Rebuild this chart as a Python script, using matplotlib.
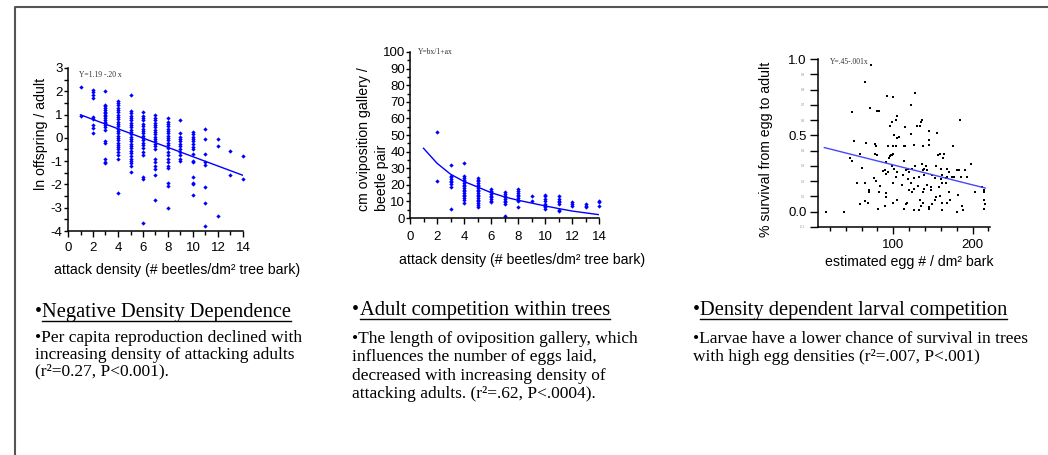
import numpy as np
import matplotlib
matplotlib.use('Agg')
import matplotlib.pyplot as plt
from matplotlib.lines import Line2D
from matplotlib.ticker import MultipleLocator

plt.rcParams['axes.unicode_minus'] = False

# ---- panel 1 data: ln offspring / adult by attack density
p1_x = list(range(1, 15))
p1_vals = [
    [2.2, 0.95],
    [2.05, 1.95, 1.85, 1.7, 0.9, 0.8, 0.55, 0.42, 0.22],
    [2.0, 1.4, 1.35, 1.28, 1.2, 1.12, 1.05, 1.0, 0.92, 0.85, 0.78, 0.7, 0.62,
     0.55, 0.45, 0.35, -0.15, -0.22, -0.92, -1.02, -1.1],
    [1.6, 1.5, 1.4, 1.3, 1.2, 1.1, 1.0, 0.9, 0.8, 0.7, 0.6, 0.5, 0.4, 0.3,
     0.2, 0.1, 0.0, -0.1, -0.2, -0.3, -0.4, -0.5, -0.6, -0.75, -0.9, -2.35],
    [1.85, 1.15, 1.05, 0.95, 0.85, 0.75, 0.65, 0.55, 0.45, 0.35, 0.25, 0.15,
     0.05, -0.05, -0.15, -0.25, -0.35, -0.45, -0.55, -0.65, -0.8, -0.9, -1.0,
     -1.1, -1.2, -1.45],
    [1.1, 0.95, 0.85, 0.75, 0.6, 0.5, 0.4, 0.3, 0.2, 0.1, 0.0, -0.1, -0.2,
     -0.3, -0.45, -0.6, -0.75, -1.7, -1.75, -3.65],
    [1.0, 0.85, 0.75, 0.65, 0.55, 0.45, 0.35, 0.25, 0.15, 0.05, -0.05, -0.15,
     -0.25, -0.35, -0.5, -0.9, -1.05, -1.2, -1.35, -1.6, -2.65],
    [0.85, 0.7, 0.6, 0.5, 0.4, 0.3, 0.2, 0.1, 0.0, -0.1, -0.2, -0.3, -0.45,
     -0.6, -0.75, -0.9, -1.05, -1.2, -1.3, -1.95, -2.05, -3.0],
    [0.75, 0.2, 0.05, -0.05, -0.15, -0.25, -0.35, -0.5, -0.6, -0.75, -0.9, -1.0],
    [0.25, 0.15, 0.05, -0.05, -0.15, -0.25, -0.4, -0.5, -0.7, -1.0, -1.05,
     -1.7, -1.95, -2.0, -2.45],
    [0.4, -0.05, -0.7, -1.05, -1.15, -2.1, -2.8, -3.8],
    [-0.05, -0.35, -3.35],
    [-0.55, -1.6],
    [-0.8, -1.75],
]
p1_fit_x = [1, 14]
p1_fit_y = [0.99, -1.61]

# ---- panel 2 data: gallery length per beetle pair
p2_x = list(range(2, 15))
p2_vals = [
    [52, 22],
    [32, 25.5, 24.5, 23.5, 22.5, 21.5, 20.5, 18.5, 5.5],
    [33, 25.5, 24, 23, 22, 21, 20, 19, 18, 17, 16, 15, 14, 13, 12, 11, 9],
    [24, 23, 22, 21, 20, 19, 18, 17, 16, 15, 14, 13, 12, 11, 10, 9, 8, 6.5],
    [17.5, 16.5, 15.5, 14.5, 13.5, 12.5, 11.5, 10.5, 9.5],
    [15.5, 14.5, 13.5, 12.5, 11.5, 10.5, 9.5, 8.5, 1.5],
    [17.5, 16, 15, 14, 13, 12, 11, 10, 6.5],
    [13.5, 10],
    [14, 13, 11.5, 10, 8.5, 7.5, 6.5, 5.5],
    [13, 11.5, 10.5, 9.5, 8.5, 5, 4],
    [9.5, 8.5, 7.5],
    [8.5, 7.5, 6.5],
    [10.5, 9.5, 7],
]
p2_fit_x = [1, 2, 3, 4, 5, 6, 7, 8, 9, 10, 11, 12, 13, 14]
p2_fit_y = [42, 33, 26.4, 22, 18.7, 15.3, 12.7, 10.7, 9, 7.3, 5.7, 4.2, 3.1, 2]

# ---- panel 3 data: survival vs egg density
p3_x = [15, 38, 72, 64, 70, 48, 51, 66, 58, 46, 48, 61, 54, 64, 58, 64, 68, 69,
        69, 77, 78, 77, 79, 79, 82, 78, 76, 81, 83, 82, 90, 87, 91, 93, 91, 89,
        91, 92, 100, 96, 98, 105, 103, 101, 105, 107, 93, 99, 103, 97, 98, 96,
        99, 94, 91, 98, 101, 99, 103, 105, 100, 105, 113, 115, 114, 112, 111,
        116, 118, 122, 127, 124, 120, 118, 122, 120, 117, 114, 116, 126, 126,
        124, 126, 128, 130, 134, 135, 136, 115, 122, 126, 145, 145, 145, 137,
        136, 141, 137, 139, 133, 131, 137, 134, 135, 133, 137, 142, 139, 139,
        143, 145, 145, 148, 149, 152, 147, 154, 155, 157, 159, 164, 163, 160,
        162, 160, 162, 158, 159, 162, 161, 152, 154, 149, 168, 170, 168, 166,
        167, 170, 172, 168, 175, 174, 177, 180, 183, 184, 185, 188, 180, 181,
        187, 191, 193, 198, 203, 212, 214, 215, 216, 214, 215]
p3_y = [0.0, 0.0, 0.96, 0.85, 0.68, 0.65, 0.46, 0.45, 0.375, 0.35, 0.33, 0.285,
        0.19, 0.19, 0.05, 0.07, 0.055, 0.13, 0.14, 0.445, 0.43, 0.38, 0.37,
        0.66, 0.66, 0.2, 0.22, 0.02, 0.17, 0.13, 0.27, 0.265, 0.25, 0.26, 0.12,
        0.035, 0.095, 0.76, 0.75, 0.56, 0.59, 0.63, 0.6, 0.5, 0.48, 0.49, 0.43,
        0.43, 0.43, 0.37, 0.37, 0.365, 0.38, 0.35, 0.325, 0.3, 0.28, 0.19,
        0.225, 0.26, 0.06, 0.08, 0.43, 0.43, 0.33, 0.24, 0.175, 0.27, 0.28,
        0.7, 0.78, 0.28, 0.26, 0.215, 0.19, 0.14, 0.06, 0.02, 0.05, 0.01, 0.15,
        0.13, 0.22, 0.3, 0.56, 0.56, 0.59, 0.6, 0.555, 0.51, 0.44, 0.47, 0.44,
        0.53, 0.43, 0.31, 0.3, 0.27, 0.24, 0.225, 0.17, 0.13, 0.08, 0.04, 0.01,
        0.06, 0.27, 0.28, 0.15, 0.175, 0.03, 0.02, 0.14, 0.24, 0.22, 0.16, 0.3,
        0.515, 0.37, 0.375, 0.38, 0.35, 0.28, 0.24, 0.215, 0.19, 0.16, 0.105,
        0.06, 0.01, 0.08, 0.095, 0.05, 0.28, 0.26, 0.225, 0.22, 0.19, 0.13,
        0.08, 0.06, 0.43, 0.225, 0.225, 0.27, 0.27, 0.6, 0.225, 0.01, 0.0,
        0.11, 0.04, 0.27, 0.225, 0.31, 0.13, 0.16, 0.13, 0.08, 0.05, 0.02, 0.14]
p3_fit_x = [13, 216]
p3_fit_y = [0.42, 0.155]

sans = 'Liberation Sans'
serif = 'Liberation Serif'
blue = '#0000ff'

W, H = 1048, 455
fig = plt.figure(figsize=(W / 100, H / 100), dpi=100)


def box(left, top, right, bottom):
    # pixel box -> figure fraction rect
    return [left / W, 1 - bottom / H, (right - left) / W, (bottom - top) / H]


def style(ax):
    for s in ['top', 'right']:
        ax.spines[s].set_visible(False)
    for s in ['left', 'bottom']:
        ax.spines[s].set_linewidth(1.1)
    ax.tick_params(which='major', direction='out', length=4, width=1,
                   labelsize=9.5, pad=2)
    ax.tick_params(which='minor', direction='out', length=3, width=1)
    for lab in ax.get_xticklabels() + ax.get_yticklabels():
        lab.set_fontfamily(sans)


# ---- panel 1
ax1 = fig.add_axes(box(68, 68, 243, 231))
for xv, ys in zip(p1_x, p1_vals):
    ax1.plot([xv] * len(ys), ys, 'D', color=blue, ms=2.2, mew=0, clip_on=False)
ax1.plot(p1_fit_x, p1_fit_y, color=blue, lw=1)
ax1.set_xlim(0, 14)
ax1.set_ylim(-4, 3)
ax1.xaxis.set_major_locator(MultipleLocator(2))
ax1.xaxis.set_minor_locator(MultipleLocator(1))
ax1.yaxis.set_major_locator(MultipleLocator(1))
ax1.yaxis.set_minor_locator(MultipleLocator(0.5))
style(ax1)
ax1.tick_params(axis='x', which='major', pad=4)
ax1.tick_params(axis='y', which='major', length=3, pad=1)
ax1.text(0.065, 0.955, 'Y=1.19 -.20 x', transform=ax1.transAxes, fontsize=5.5,
         family=serif, va='center', color='#333333')

# ---- panel 2
ax2 = fig.add_axes(box(410, 52, 599, 218))
for xv, ys in zip(p2_x, p2_vals):
    ax2.plot([xv] * len(ys), ys, 'D', color=blue, ms=2.2, mew=0, clip_on=False)
ax2.plot(p2_fit_x, p2_fit_y, color=blue, lw=1)
ax2.set_xlim(0, 14)
ax2.set_ylim(0, 100)
ax2.xaxis.set_major_locator(MultipleLocator(2))
ax2.xaxis.set_minor_locator(MultipleLocator(1))
ax2.yaxis.set_major_locator(MultipleLocator(10))
ax2.yaxis.set_minor_locator(MultipleLocator(5))
style(ax2)
ax2.tick_params(axis='x', which='major', pad=5)
ax2.tick_params(axis='y', which='major', length=3, pad=0.5)
ax2.tick_params(axis='y', which='minor', length=2)
ax2.text(0.04, 1.0, 'Y=bx/1+ax', transform=ax2.transAxes, fontsize=5.5,
         family=serif, va='center', color='#333333')

# ---- panel 3
ax3 = fig.add_axes(box(818, 59, 990, 227))
ax3.plot(p3_x, p3_y, 's', color='black', ms=1.8, mew=0, clip_on=False)
ax3.plot(p3_fit_x, p3_fit_y, color='#4646ff', lw=1)
ax3.set_xlim(5, 222)
ax3.set_ylim(-0.1, 1.0)
ax3.set_xticks([100, 200])
ax3.set_xticks(np.arange(20, 221, 20), minor=True)
ax3.set_yticks([0.0, 0.5, 1.0])
ax3.set_yticklabels(['0.0', '0.5', '1.0'])
minor_y = [-0.1, 0.1, 0.2, 0.3, 0.4, 0.6, 0.7, 0.8, 0.9]
ax3.set_yticks(minor_y, minor=True)
ax3.set_yticklabels([f'{v:.1f}' for v in minor_y], minor=True, fontsize=2,
                    color='0.55')
style(ax3)
ax3.tick_params(axis='y', which='both', length=6)
ax3.tick_params(axis='x', which='major', length=5, pad=4)
ax3.text(0.07, 0.985, 'Y=.45-.001x', transform=ax3.transAxes, fontsize=5.5,
         family=serif, va='center', color='#333333')

# ---- axis titles (placed like the slide)
lab_fs = 10.2
fig.text(177 / W, 1 - 270 / H, 'attack density (# beetles/dm² tree bark)',
         family=sans, fontsize=lab_fs, ha='center', va='center')
fig.text(522 / W, 1 - 260 / H, 'attack density (# beetles/dm² tree bark)',
         family=sans, fontsize=lab_fs, ha='center', va='center')
fig.text(909 / W, 1 - 262 / H, 'estimated egg # / dm² bark',
         family=sans, fontsize=lab_fs, ha='center', va='center')
fig.text(41 / W, 1 - 134 / H, 'ln offspring / adult', family=sans,
         fontsize=lab_fs, rotation=90, ha='center', va='center')
fig.text(373 / W, 1 - 211 / H, 'cm oviposition gallery /\nbeetle pair',
         family=sans, fontsize=lab_fs, rotation=90, ha='center', va='bottom',
         multialignment='left', linespacing=1.3)
fig.text(766 / W, 1 - 149 / H, '% survival from egg to adult', family=sans,
         fontsize=lab_fs, rotation=90, ha='center', va='center')

# ---- bullet text blocks under each chart
headings = ['Negative Density Dependence', 'Adult competition within trees',
            'Density dependent larval competition']
bodies = [
    ['•Per capita reproduction declined with',
     'increasing density of attacking adults',
     '(r²=0.27, P<0.001).'],
    ['•The length of oviposition gallery, which',
     'influences the number of eggs laid,',
     'decreased with increasing density of',
     'attacking adults. (r²=.62, P<.0004).'],
    ['•Larvae have a lower chance of survival in trees',
     'with high egg densities (r²=.007, P<.001)'],
]
bullet_x = [35, 352, 693]
head_x = [42, 360, 700]
head_base = [317, 315, 315]
body_base = [342, 343, 343]
body_step = [16.7, 18.3, 18.3]

heads = []
for i in range(3):
    fig.text(bullet_x[i] / W, 1 - head_base[i] / H, '•', family=serif,
             fontsize=14.5, va='baseline')
    heads.append(fig.text(head_x[i] / W, 1 - head_base[i] / H, headings[i],
                          family=serif, fontsize=14.8, va='baseline'))
    for j, line in enumerate(bodies[i]):
        fig.text(bullet_x[i] / W, 1 - (body_base[i] + j * body_step[i]) / H,
                 line, family=serif, fontsize=12.5, va='baseline')

# underline the headings
fig.canvas.draw()
for i, t in enumerate(heads):
    bb = t.get_window_extent()
    uy = 1 - (head_base[i] + 4) / H
    fig.add_artist(Line2D([bb.x0 / W, bb.x1 / W], [uy, uy], color='black', lw=1))

# slide frame (top and left edges)
fx = 15 / W
fy = 1 - 7 / H
fig.add_artist(Line2D([fx, fx, 1], [0, fy, fy], color='#555555', lw=1.5))

fig.savefig('out.png', dpi=100)
